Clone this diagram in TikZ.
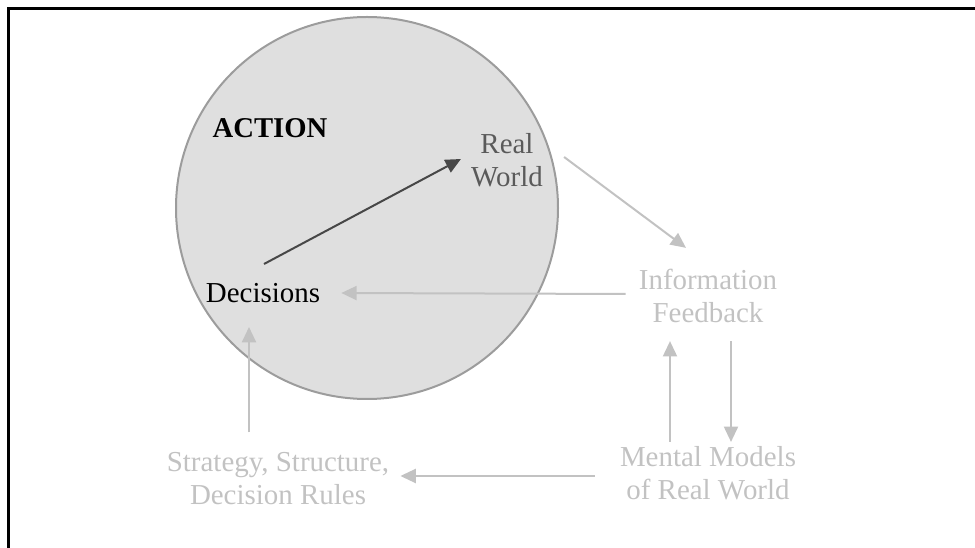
\documentclass[tikz,border=0pt]{standalone}
\usepackage{fontspec}
\setmainfont{Liberation Serif}
\usepackage{tikz}
\usetikzlibrary{arrows.meta,calc}
\definecolor{ringfill}{HTML}{DFDFDF}
\definecolor{ringdraw}{HTML}{9C9C9C}
\definecolor{faint}{HTML}{C2C2C2}
\definecolor{darkline}{HTML}{474747}
\definecolor{midtext}{HTML}{5A5A5A}

\begin{document}
\begin{tikzpicture}[x=0.75pt,y=-0.75pt,
  lbl/.style={inner sep=0pt,align=center,font=\fontsize{21.7}{24.8}\selectfont},
  farr/.style={-{Triangle[length=11.5pt,width=10.5pt]},faint,line width=1.5pt},
  darr/.style={-{Triangle[length=11.5pt,width=10.5pt]},darkline,line width=1.5pt}]
\useasboundingbox (0,0) rectangle (975,548);
\draw[line width=2.2pt] (8.5,548) -- (8.5,8.5) -- (975,8.5);
\fill[ringfill,draw=ringdraw,line width=1.5pt] (367,208) circle[radius=191];
\node[lbl,font=\fontsize{21.5}{24.8}\selectfont\bfseries] (act) at (270,128) {ACTION};
\node[lbl,text=midtext] (rw) at (507,160) {Real\\World};
\node[lbl] (dec) at (263,293) {Decisions};
\node[lbl,text=faint] (info) at (708,296) {Information\\Feedback};
\node[lbl,text=faint] (mental) at (708,473) {Mental Models\\of Real World};
\node[lbl,text=faint] (strat) at (278,479) {Strategy, Structure,\\Decision Rules};
\draw[darr] ($(dec.north)+(1,-19)$) -- ($(rw.west)+(-10,-1)$);
\draw[farr] ($(rw.east)+(21,-3)$) -- ($(info.north)+(-22,-21)$);
\draw[farr] ($(info.west)+(-13,-2)$) -- ($(dec.east)+(21,0)$);
\draw[farr] ($(mental.north)+(-38,-4)$) -- ($(info.south)+(-38,18)$);
\draw[farr] ($(info.south)+(23,18)$) -- ($(mental.north)+(23,-4)$);
\draw[farr] ($(mental.west)+(-25,3)$) -- ($(strat.east)+(11,-3)$);
\draw[farr] ($(strat.north)+(-29,-20)$) -- ($(dec.south)+(-14,24)$);
\end{tikzpicture}
\end{document}
